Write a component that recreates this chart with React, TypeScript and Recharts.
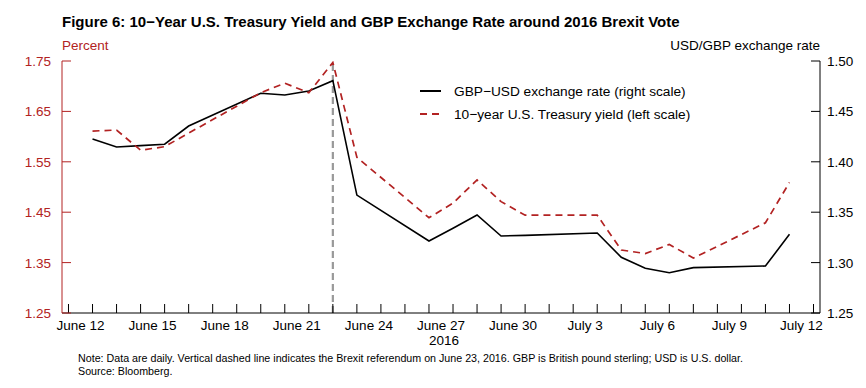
import React from "react";
import { ComposedChart, Line, XAxis, YAxis, ReferenceLine } from "recharts";

const RED = "#b22222";
const FONT = "'Liberation Sans', Arial, sans-serif";

// trading days, June 13 - July 12, 2016
const dates = [
  "2016-06-13", "2016-06-14", "2016-06-15", "2016-06-16", "2016-06-17",
  "2016-06-20", "2016-06-21", "2016-06-22", "2016-06-23", "2016-06-24",
  "2016-06-27", "2016-06-28", "2016-06-29", "2016-06-30", "2016-07-01",
  "2016-07-04", "2016-07-05", "2016-07-06", "2016-07-07", "2016-07-08",
  "2016-07-11", "2016-07-12",
];
const gbpUsd = [
  1.4226, 1.4147, 1.416, 1.4174, 1.4355, 1.468, 1.4663, 1.4702, 1.4805, 1.367,
  1.3214, 1.334, 1.3472, 1.3264, 1.327, 1.3294, 1.3053, 1.2943, 1.29, 1.295,
  1.2966, 1.3281,
];
const treasury10y = [
  1.611, 1.613, 1.573, 1.58, 1.607, 1.687, 1.706, 1.687, 1.747, 1.559, 1.439,
  1.468, 1.514, 1.471, 1.444, 1.444, 1.375, 1.368, 1.386, 1.359, 1.429, 1.509,
];
const xLabels = [
  "June 12", "June 15", "June 18", "June 21", "June 24", "June 27",
  "June 30", "July 3", "July 6", "July 9", "July 12",
];
const leftTicks = [1.25, 1.35, 1.45, 1.55, 1.65, 1.75];
const rightTicks = [1.25, 1.3, 1.35, 1.4, 1.45, 1.5];
const brexitDate = "2016-06-23";

const START = Date.UTC(2016, 5, 12);
const dayOf = (s: string) => {
  const [y, m, d] = s.split("-").map(Number);
  return Math.round((Date.UTC(y, m - 1, d) - START) / 86400000);
};

const data = dates.map((s, i) => ({
  d: dayOf(s),
  gbp: gbpUsd[i],
  yld: treasury10y[i],
}));

const dayTicks = Array.from({ length: 32 }, (_, i) => i);

const XTick = (props: any) => {
  const { x, y, payload } = props;
  const v = payload.value;
  const label = v % 3 === 0 && v / 3 < xLabels.length ? xLabels[v / 3] : null;
  return (
    <g>
      <line x1={x} x2={x} y1={y} y2={y - 9} stroke="#000" strokeWidth={1} />
      {label && (
        <text
          x={x + 12}
          y={y + 17}
          textAnchor="middle"
          fontSize={13.5}
          fontFamily={FONT}
          fill="#000"
        >
          {label}
        </text>
      )}
    </g>
  );
};

const LeftTick = (props: any) => {
  const { x, y, payload } = props;
  return (
    <g>
      <line x1={x} x2={x + 9} y1={y} y2={y} stroke={RED} strokeWidth={1} />
      <text
        x={x - 11}
        y={y + 5}
        textAnchor="end"
        fontSize={13.5}
        fontFamily={FONT}
        fill={RED}
      >
        {payload.value.toFixed(2)}
      </text>
    </g>
  );
};

const RightTick = (props: any) => {
  const { x, y, payload } = props;
  return (
    <g>
      <line x1={x} x2={x - 9} y1={y} y2={y} stroke="#000" strokeWidth={1} />
      <text
        x={x + 7}
        y={y + 5}
        textAnchor="start"
        fontSize={13.5}
        fontFamily={FONT}
        fill="#000"
      >
        {payload.value.toFixed(2)}
      </text>
    </g>
  );
};

const abs = (left: number, top: number): React.CSSProperties => ({
  position: "absolute",
  left,
  top,
  fontFamily: FONT,
  whiteSpace: "nowrap",
  lineHeight: 1,
});

export default function App() {
  return (
    <div
      style={{
        position: "absolute",
        left: 0,
        top: 0,
        width: 866,
        height: 388,
        background: "#fff",
      }}
    >
      <div style={{ ...abs(62, 14), fontSize: 15, fontWeight: "bold" }}>
        Figure 6: 10−Year U.S. Treasury Yield and GBP Exchange Rate around 2016
        Brexit Vote
      </div>
      <div style={{ ...abs(62, 39), fontSize: 13.5, color: RED }}>Percent</div>
      <div
        style={{
          ...abs(0, 39),
          width: 820,
          textAlign: "right",
          fontSize: 13.5,
          color: "#000",
        }}
      >
        USD/GBP exchange rate
      </div>
      <ComposedChart
        width={866}
        height={388}
        data={data}
        margin={{ top: 61, right: 6, bottom: 45, left: 22 }}
      >
        <XAxis
          dataKey="d"
          type="number"
          domain={[-0.27, 31.27]}
          ticks={dayTicks}
          interval={0}
          allowDataOverflow
          height={30}
          tickSize={0}
          tickMargin={0}
          tickLine={false}
          axisLine={{ stroke: "#000", strokeWidth: 1 }}
          tick={<XTick />}
        />
        <YAxis
          yAxisId="left"
          orientation="left"
          domain={[1.25, 1.75]}
          ticks={leftTicks}
          interval={0}
          allowDataOverflow
          width={40}
          tickSize={0}
          tickMargin={0}
          tickLine={false}
          axisLine={{ stroke: RED, strokeWidth: 1 }}
          tick={<LeftTick />}
        />
        <YAxis
          yAxisId="right"
          orientation="right"
          domain={[1.25, 1.5]}
          ticks={rightTicks}
          interval={0}
          allowDataOverflow
          width={40}
          tickSize={0}
          tickMargin={0}
          tickLine={false}
          axisLine={{ stroke: "#000", strokeWidth: 1 }}
          tick={<RightTick />}
        />
        <ReferenceLine
          yAxisId="left"
          x={dayOf(brexitDate)}
          stroke="#999"
          strokeWidth={2.2}
          strokeDasharray="7 4"
        />
        <Line
          yAxisId="right"
          dataKey="gbp"
          type="linear"
          stroke="#000"
          strokeWidth={1.6}
          dot={false}
          isAnimationActive={false}
        />
        <Line
          yAxisId="left"
          dataKey="yld"
          type="linear"
          stroke={RED}
          strokeWidth={1.7}
          strokeDasharray="7 5"
          dot={false}
          isAnimationActive={false}
        />
      </ComposedChart>
      <svg
        width={420}
        height={50}
        style={{ position: "absolute", left: 415, top: 83 }}
      >
        <line x1={5} x2={26} y1={8} y2={8} stroke="#000" strokeWidth={2} />
        <text x={39} y={13} fontSize={13.7} fontFamily={FONT} fill="#000">
          GBP−USD exchange rate (right scale)
        </text>
        <line
          x1={5}
          x2={26}
          y1={31}
          y2={31}
          stroke={RED}
          strokeWidth={2}
          strokeDasharray="7 5"
        />
        <text x={39} y={36} fontSize={13.7} fontFamily={FONT} fill="#000">
          10−year U.S. Treasury yield (left scale)
        </text>
      </svg>
      <div
        style={{
          ...abs(0, 334),
          width: 888,
          textAlign: "center",
          fontSize: 13.5,
        }}
      >
        2016
      </div>
      <div style={{ ...abs(78, 352), fontSize: 10.7, lineHeight: "12.5px" }}>
        Note: Data are daily. Vertical dashed line indicates the Brexit
        referendum on June 23, 2016. GBP is British pound sterling; USD is U.S.
        dollar.
        <br />
        Source: Bloomberg.
      </div>
    </div>
  );
}
